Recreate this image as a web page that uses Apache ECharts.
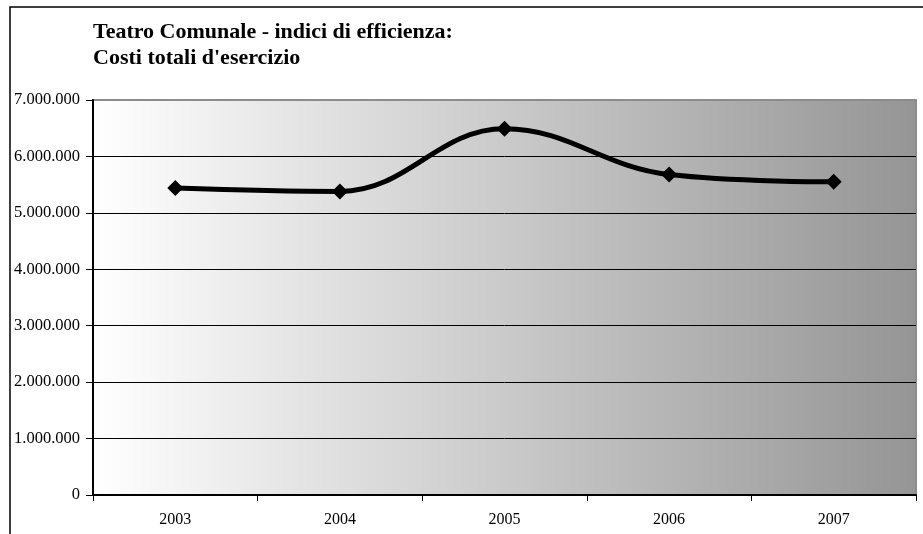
<!DOCTYPE html>
<html><head><meta charset="utf-8">
<script src="https://cdn.jsdelivr.net/npm/echarts@6/dist/echarts.min.js"></script>
<style>html,body{margin:0;padding:0;background:#fff}#c{width:923px;height:534px}</style>
</head><body><div id="c"></div>
<script>
const titleLines = ["Teatro Comunale - indici di efficienza:", "Costi totali d'esercizio"];
const categories = ["2003", "2004", "2005", "2006", "2007"];
const costs = [5440000, 5380000, 6490000, 5680000, 5550000];

function fmt(v){ return v === 0 ? "0" : String(v).replace(/\B(?=(\d{3})+(?!\d))/g, "."); }

const chart = echarts.init(document.getElementById('c'), null, {renderer:'canvas'});
chart.setOption({
  animation:false,
  graphic:[
    {type:'rect', shape:{x:10, y:7, width:940, height:560}, style:{fill:'none', stroke:'#000', lineWidth:1.5}, z:-10},
    {type:'text', left:93, top:19, style:{text:titleLines.join('\n'), font:'bold 22px "Liberation Serif"', fill:'#000', lineHeight:26}}
  ],
  grid:{left:93, right:7, top:100, bottom:39, show:true, borderColor:'#8c8c8c', borderWidth:2,
    backgroundColor:{type:'linear', x:0, y:0, x2:1, y2:0, colorStops:[{offset:0,color:'#ffffff'},{offset:1,color:'#959595'}]}},
  xAxis:{type:'category', data:categories, boundaryGap:true,
    axisLine:{lineStyle:{color:'#000', width:2}},
    axisTick:{show:true, length:6, lineStyle:{color:'#000'}},
    axisLabel:{color:'#000', fontFamily:'Liberation Serif', fontSize:16, margin:17}},
  yAxis:{type:'value', min:0, max:7000000, interval:1000000,
    axisLine:{show:true, lineStyle:{color:'#000', width:2}},
    axisTick:{show:true, length:7, lineStyle:{color:'#000'}},
    axisLabel:{color:'#000', fontFamily:'Liberation Serif', fontSize:16.5, margin:13, formatter:fmt},
    splitLine:{show:true, lineStyle:{color:['#000','#000','#000','#000','#000','#000','#000','#8c8c8c'], width:1}}},
  series:[{type:'line', data:costs, smooth:0.4, symbol:'diamond', symbolSize:16,
    lineStyle:{color:'#000', width:5}, itemStyle:{color:'#000'}}]
});
</script></body></html>
